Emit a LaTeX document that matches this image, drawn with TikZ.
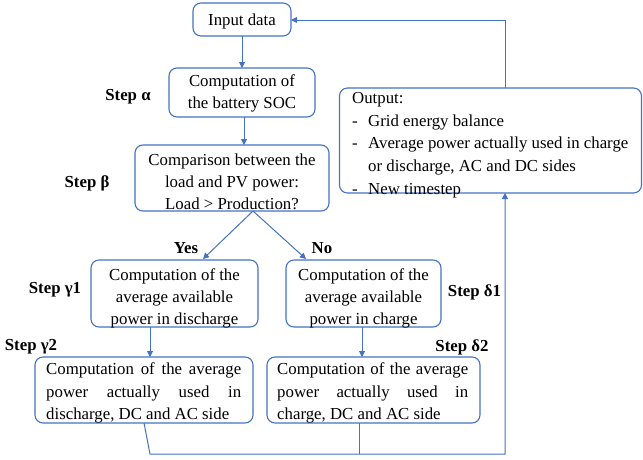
\documentclass[tikz,border=0pt]{standalone}
\usepackage{fontspec}
\setmainfont{Liberation Serif}
\usetikzlibrary{arrows.meta}
\definecolor{boxblue}{RGB}{68,114,196}
\tikzset{
  box/.style={draw=boxblue, line width=1.1pt, rounded corners=8pt, inner sep=0pt, outer sep=0pt, fill=none},
  txt/.style={inner sep=0pt, align=center, font=\fontsize{16.8}{22}\selectfont},
  lbl/.style={inner sep=0pt, font=\fontsize{16.8}{20}\selectfont\bfseries},
  conn/.style={draw=boxblue, line width=1pt},
  arr/.style={conn, -{Triangle[length=6pt,width=6pt]}}
}
\begin{document}
\begin{tikzpicture}[x=1pt,y=-1pt]
\useasboundingbox (0,0) rectangle (643,459);
% boxes
\node[box, minimum width=98pt, minimum height=33pt] (inp) at (242,19.5) {};
\node[box, minimum width=146pt, minimum height=49pt] (soc) at (242,92.5) {};
\node[box, minimum width=194pt, minimum height=66pt] (cmp) at (232,178) {};
\node[box, minimum width=167pt, minimum height=67pt] (g1) at (174.5,293.5) {};
\node[box, minimum width=155pt, minimum height=67pt] (d1) at (363.5,293.5) {};
\node[box, minimum width=218pt, minimum height=66pt] (g2) at (144,390) {};
\node[box, minimum width=213pt, minimum height=66pt] (d2) at (373.5,390) {};
\node[box, minimum width=302pt, minimum height=105pt] (out) at (490.5,140.5) {};
% texts
\node[txt] (tinp) at (242,21) {Input data};
\node[txt] (tsoc) at (242,93.5) {Computation of\\the battery SOC};
\node[txt] (tcmp) at (232,182) {Comparison between the\\load and PV power:\\Load > Production?};
\node[txt] (tg1) at (174.5,298.5) {Computation of the\\average available\\power in discharge};
\node[txt] (td1) at (363.5,298.5) {Computation of the\\average available\\power in charge};
\node[txt, align=left, anchor=west] (tg2) at (46,393) {\parbox{195pt}{\fontsize{16.8}{22.5}\selectfont Computation of the average\linebreak power actually used in\linebreak discharge, DC and AC side}};
\node[txt, align=left, anchor=west] (td2) at (277,393) {\parbox{191pt}{\fontsize{16.8}{22.5}\selectfont Computation of the average\linebreak power actually used in\linebreak charge, DC and AC side}};
\node[txt, align=left, anchor=north west, font=\fontsize{16.8}{22.8}\selectfont] (tout) at (352,92) {Output:\\
\makebox[16pt][l]{-}Grid energy balance\\
\makebox[16pt][l]{-}Average power actually used in charge\\
\hspace*{16pt}or discharge, AC and DC sides\\
\makebox[16pt][l]{-}New timestep};
% labels
\node[lbl] (la) at (128,97) {Step α};
\node[lbl] (lb) at (87,183) {Step β};
\node[lbl] (lg1) at (55,290) {Step γ1};
\node[lbl] (lg2) at (31,347) {Step γ2};
\node[lbl] (ld1) at (474.5,292) {Step δ1};
\node[lbl] (ld2) at (462,347) {Step δ2};
\node[lbl] (lyes) at (186,248) {Yes};
\node[lbl] (lno) at (322,248) {No};
% connector points
\coordinate (split) at (253,211);
\coordinate (gtip) at (203,259);
\coordinate (dtip) at (306,259);
\coordinate (gbot) at (144,423);
\coordinate (gcorner) at (150,454);
\coordinate (rcorner) at (505,454);
\coordinate (dbot) at (359,423);
\coordinate (dcorner) at (359,454);
\coordinate (otop) at (505,88);
\coordinate (ocorner) at (505,20);
% connectors
\draw[arr] (inp.south) -- (soc.north);
\draw[arr] (soc.south -| 244,0) -- (244,145);
\draw[arr] (split) -- (gtip);
\draw[arr] (split) -- (dtip);
\draw[arr] (150,327) -- (150,357);
\draw[arr] (362,327) -- (362,357);
\draw[arr] (gbot) -- (gcorner) -- (rcorner) -- (505,193);
\draw[conn] (dbot) -- (dcorner);
\draw[arr] (otop) -- (ocorner) -- (inp.east |- ocorner);
\end{tikzpicture}
\end{document}
